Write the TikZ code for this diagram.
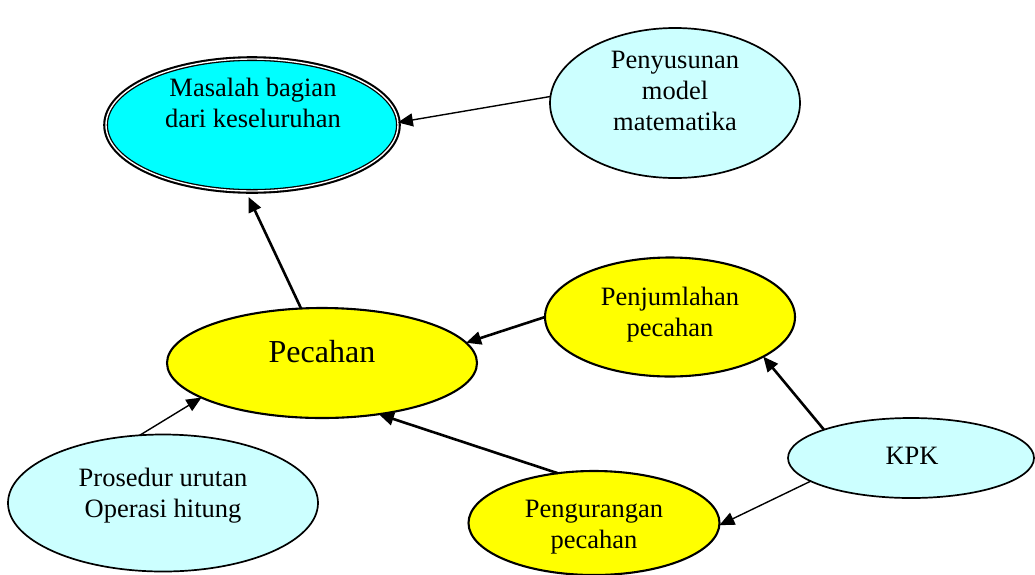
\documentclass[tikz,border=0pt]{standalone}
\usepackage{fontspec}
\setmainfont{Liberation Serif}
\usetikzlibrary{positioning,calc,arrows.meta,shapes.geometric}
\definecolor{pale cyan}{HTML}{CCFFFF}
\definecolor{full cyan}{HTML}{00FFFF}
\definecolor{full yellow}{HTML}{FFFF00}
\tikzset{
  >={Triangle[length=15pt,width=13pt]},
  my blob/.style={
    ellipse,
    draw,
    line width=1.7pt,
    inner sep=0pt,
    outer sep=0pt
  },
  my main/.style={
    my blob,
    preaction={draw,line width=5.6pt},
    fill=full cyan,
    line width=1.3pt,
    double=white,
    double distance=1.4pt
  },
  my light/.style={my blob,fill=pale cyan},
  my yellow/.style={my blob,fill=full yellow,line width=2.1pt},
  my text/.style={
    align=center,
    inner sep=0pt,
    font=\fontsize{26.5}{31}\selectfont
  },
  thin link/.style={->,line width=1.4pt},
  thick link/.style={->,line width=2.6pt}
}

\begin{document}
\begin{tikzpicture}[x=1pt,y=-1pt]
\useasboundingbox (0,0) rectangle (1035,574);
% ellipses
\node[my main,minimum width=292pt,minimum height=132pt] (masalah) at (252,125) {};
\node[my light,minimum width=250pt,minimum height=150pt] (penyusunan) at (675,103) {};
\node[my yellow,minimum width=310pt,minimum height=110pt] (pecahan) at (322,363) {};
\node[my yellow,minimum width=250pt,minimum height=119pt] (penjumlahan) at (670,317) {};
\node[my light,minimum width=310pt,minimum height=137pt] (prosedur) at (163,503) {};
\node[my yellow,minimum width=251pt,minimum height=104pt] (pengurangan) at (594,523) {};
\node[my light,minimum width=246pt,minimum height=80pt] (kpk) at (911,458) {};
% texts
\node[my text] (masalah text) at (253,103) {Masalah bagian\\dari keseluruhan};
\node[my text] (penyusunan text) at (675,91) {Penyusunan\\model\\matematika};
\node[my text,font=\fontsize{32}{38}\selectfont] (pecahan text) at (322,352) {Pecahan};
\node[my text] (penjumlahan text) at (670,315) {Penjumlahan\\pecahan};
\node[my text] (prosedur text) at (163,496) {Prosedur urutan\\Operasi hitung};
\node[my text] (pengurangan text) at (594,527) {Pengurangan\\pecahan};
\node[my text] (kpk text) at (912,456) {KPK};
% links
\draw[thin link] (penyusunan.177) -- (masalah.1);
\draw[thick link] (pecahan.111) -- ($(masalah.267)+(0,6)$);
\draw[thick link] (penjumlahan.180) -- (pecahan.8);
\draw[thin link] (prosedur.109) -- (pecahan.196);
\draw[thick link] (pengurangan.126) -- (pecahan.318);
\draw[thick link] (kpk.162) -- (penjumlahan.337);
\draw[thin link] (kpk.193) -- (pengurangan.359);
\end{tikzpicture}
\end{document}
